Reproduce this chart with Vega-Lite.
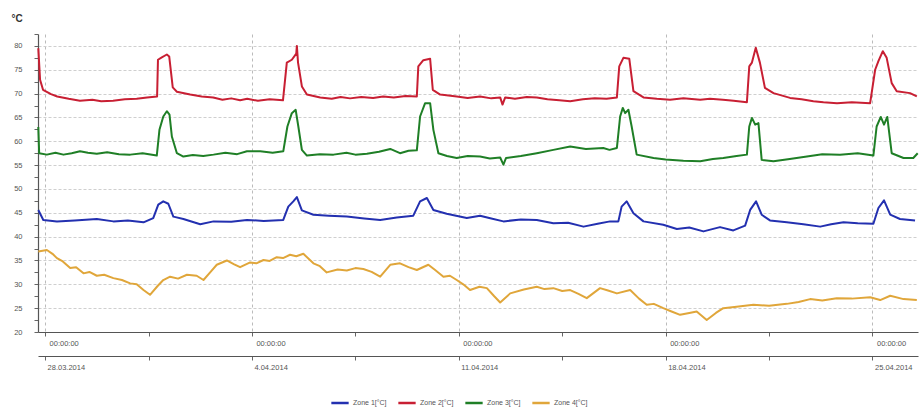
{
  "$schema": "https://vega.github.io/schema/vega-lite/v6.json",
  "width": 880,
  "height": 298,
  "autosize": "none",
  "padding": {"left": 38, "top": 34, "right": 4, "bottom": 76},
  "background": "white",
  "config": {
    "font": "Liberation Sans",
    "view": {"stroke": null},
    "axis": {"labelColor": "#555", "labelFont": "Liberation Sans", "domainColor": "#666", "tickColor": "#666"},
    "axisY": {
      "titleAngle": 0, "titleX": -27, "titleY": -16, "titleAlign": "left", "titleBaseline": "middle",
      "titleFontSize": 10, "titleFontWeight": "bold", "titleColor": "#333",
      "labelFontSize": 7.5, "labelPadding": 12, "tickSize": 4, "domainColor": "#555", "domainWidth": 1.2,
      "grid": true, "gridColor": "#cfcfcf", "gridDash": [3, 2]
    }
  },
  "data": {"values": [
    {"s":"2","d":-0.23,"v":79.5},{"s":"2","d":-0.17,"v":72.9},{"s":"2","d":-0.07,"v":70.8},{"s":"2","d":0.2,"v":69.9},{"s":"2","d":0.41,"v":69.4},{"s":"2","d":0.8,"v":68.9},{"s":"2","d":1.18,"v":68.5},{"s":"2","d":1.6,"v":68.7},{"s":"2","d":1.9,"v":68.4},{"s":"2","d":2.3,"v":68.5},{"s":"2","d":2.7,"v":68.8},{"s":"2","d":3.1,"v":68.9},{"s":"2","d":3.45,"v":69.2},{"s":"2","d":3.79,"v":69.4},{"s":"2","d":3.82,"v":77.1},{"s":"2","d":3.95,"v":77.6},{"s":"2","d":4.12,"v":78.2},{"s":"2","d":4.2,"v":77.8},{"s":"2","d":4.32,"v":71.3},{"s":"2","d":4.46,"v":70.4},{"s":"2","d":4.91,"v":69.8},{"s":"2","d":5.3,"v":69.4},{"s":"2","d":5.69,"v":69.2},{"s":"2","d":6.0,"v":68.7},{"s":"2","d":6.3,"v":69.0},{"s":"2","d":6.6,"v":68.6},{"s":"2","d":6.84,"v":68.9},{"s":"2","d":7.2,"v":68.5},{"s":"2","d":7.6,"v":68.8},{"s":"2","d":8.05,"v":68.6},{"s":"2","d":8.18,"v":76.5},{"s":"2","d":8.35,"v":77.1},{"s":"2","d":8.5,"v":78.4},{"s":"2","d":8.52,"v":80.0},{"s":"2","d":8.56,"v":76.5},{"s":"2","d":8.69,"v":71.5},{"s":"2","d":8.86,"v":69.8},{"s":"2","d":9.31,"v":69.2},{"s":"2","d":9.7,"v":68.9},{"s":"2","d":10.0,"v":69.3},{"s":"2","d":10.32,"v":69.0},{"s":"2","d":10.7,"v":69.3},{"s":"2","d":11.1,"v":69.1},{"s":"2","d":11.44,"v":69.4},{"s":"2","d":11.8,"v":69.2},{"s":"2","d":12.2,"v":69.5},{"s":"2","d":12.58,"v":69.4},{"s":"2","d":12.63,"v":75.7},{"s":"2","d":12.8,"v":77.0},{"s":"2","d":13.03,"v":77.3},{"s":"2","d":13.12,"v":70.8},{"s":"2","d":13.37,"v":69.8},{"s":"2","d":13.93,"v":69.4},{"s":"2","d":14.3,"v":69.1},{"s":"2","d":14.72,"v":69.4},{"s":"2","d":15.1,"v":69.0},{"s":"2","d":15.4,"v":69.2},{"s":"2","d":15.48,"v":67.7},{"s":"2","d":15.57,"v":69.2},{"s":"2","d":15.9,"v":68.9},{"s":"2","d":16.3,"v":69.3},{"s":"2","d":16.64,"v":69.2},{"s":"2","d":17.0,"v":68.8},{"s":"2","d":17.4,"v":68.6},{"s":"2","d":17.77,"v":68.4},{"s":"2","d":18.2,"v":68.8},{"s":"2","d":18.6,"v":69.0},{"s":"2","d":19.0,"v":68.9},{"s":"2","d":19.35,"v":69.2},{"s":"2","d":19.43,"v":75.7},{"s":"2","d":19.57,"v":77.5},{"s":"2","d":19.77,"v":77.3},{"s":"2","d":19.91,"v":70.5},{"s":"2","d":20.25,"v":69.2},{"s":"2","d":20.7,"v":68.9},{"s":"2","d":21.15,"v":68.7},{"s":"2","d":21.6,"v":69.0},{"s":"2","d":22.17,"v":68.7},{"s":"2","d":22.5,"v":68.9},{"s":"2","d":22.94,"v":68.7},{"s":"2","d":23.3,"v":68.5},{"s":"2","d":23.75,"v":68.2},{"s":"2","d":23.83,"v":75.7},{"s":"2","d":23.92,"v":76.5},{"s":"2","d":24.05,"v":79.6},{"s":"2","d":24.19,"v":76.5},{"s":"2","d":24.36,"v":71.2},{"s":"2","d":24.65,"v":70.1},{"s":"2","d":25.21,"v":69.1},{"s":"2","d":25.6,"v":68.8},{"s":"2","d":26.0,"v":68.4},{"s":"2","d":26.34,"v":68.2},{"s":"2","d":26.8,"v":68.0},{"s":"2","d":27.3,"v":68.2},{"s":"2","d":27.92,"v":68.0},{"s":"2","d":28.09,"v":75.0},{"s":"2","d":28.2,"v":76.8},{"s":"2","d":28.35,"v":78.9},{"s":"2","d":28.48,"v":77.5},{"s":"2","d":28.65,"v":72.2},{"s":"2","d":28.82,"v":70.5},{"s":"2","d":29.27,"v":70.1},{"s":"2","d":29.5,"v":69.4},
    {"s":"3","d":-0.23,"v":63.0},{"s":"3","d":-0.2,"v":57.5},{"s":"3","d":0.06,"v":57.2},{"s":"3","d":0.35,"v":57.6},{"s":"3","d":0.62,"v":57.2},{"s":"3","d":0.9,"v":57.5},{"s":"3","d":1.18,"v":57.9},{"s":"3","d":1.45,"v":57.6},{"s":"3","d":1.75,"v":57.4},{"s":"3","d":2.1,"v":57.7},{"s":"3","d":2.5,"v":57.3},{"s":"3","d":2.88,"v":57.2},{"s":"3","d":3.3,"v":57.5},{"s":"3","d":3.78,"v":57.0},{"s":"3","d":3.87,"v":62.4},{"s":"3","d":4.0,"v":65.2},{"s":"3","d":4.12,"v":66.3},{"s":"3","d":4.21,"v":65.6},{"s":"3","d":4.29,"v":61.0},{"s":"3","d":4.46,"v":57.5},{"s":"3","d":4.68,"v":56.8},{"s":"3","d":5.0,"v":57.1},{"s":"3","d":5.35,"v":56.9},{"s":"3","d":5.7,"v":57.2},{"s":"3","d":6.1,"v":57.6},{"s":"3","d":6.5,"v":57.3},{"s":"3","d":6.83,"v":57.9},{"s":"3","d":7.28,"v":57.9},{"s":"3","d":7.7,"v":57.6},{"s":"3","d":8.06,"v":57.9},{"s":"3","d":8.2,"v":63.1},{"s":"3","d":8.35,"v":65.9},{"s":"3","d":8.48,"v":66.6},{"s":"3","d":8.57,"v":63.1},{"s":"3","d":8.69,"v":58.2},{"s":"3","d":8.86,"v":57.0},{"s":"3","d":9.3,"v":57.3},{"s":"3","d":9.76,"v":57.2},{"s":"3","d":10.2,"v":57.6},{"s":"3","d":10.5,"v":57.2},{"s":"3","d":10.89,"v":57.4},{"s":"3","d":11.3,"v":57.8},{"s":"3","d":11.68,"v":58.4},{"s":"3","d":12.01,"v":57.5},{"s":"3","d":12.3,"v":58.0},{"s":"3","d":12.58,"v":58.1},{"s":"3","d":12.69,"v":65.2},{"s":"3","d":12.86,"v":68.0},{"s":"3","d":13.03,"v":68.0},{"s":"3","d":13.14,"v":62.4},{"s":"3","d":13.31,"v":57.5},{"s":"3","d":13.6,"v":56.9},{"s":"3","d":13.93,"v":56.5},{"s":"3","d":14.3,"v":56.9},{"s":"3","d":14.72,"v":56.8},{"s":"3","d":15.05,"v":56.4},{"s":"3","d":15.4,"v":56.6},{"s":"3","d":15.51,"v":55.1},{"s":"3","d":15.6,"v":56.5},{"s":"3","d":16.1,"v":56.9},{"s":"3","d":16.64,"v":57.5},{"s":"3","d":17.2,"v":58.2},{"s":"3","d":17.77,"v":58.9},{"s":"3","d":18.3,"v":58.4},{"s":"3","d":18.89,"v":58.6},{"s":"3","d":19.1,"v":58.2},{"s":"3","d":19.35,"v":58.6},{"s":"3","d":19.46,"v":65.2},{"s":"3","d":19.55,"v":67.0},{"s":"3","d":19.63,"v":65.9},{"s":"3","d":19.74,"v":66.6},{"s":"3","d":19.85,"v":63.1},{"s":"3","d":20.02,"v":57.2},{"s":"3","d":20.59,"v":56.5},{"s":"3","d":21.0,"v":56.2},{"s":"3","d":21.6,"v":55.9},{"s":"3","d":22.17,"v":55.8},{"s":"3","d":22.6,"v":56.3},{"s":"3","d":22.95,"v":56.5},{"s":"3","d":23.4,"v":56.9},{"s":"3","d":23.75,"v":57.2},{"s":"3","d":23.83,"v":63.1},{"s":"3","d":23.92,"v":64.9},{"s":"3","d":24.03,"v":63.5},{"s":"3","d":24.14,"v":63.8},{"s":"3","d":24.25,"v":56.1},{"s":"3","d":24.65,"v":55.8},{"s":"3","d":25.2,"v":56.3},{"s":"3","d":25.78,"v":56.8},{"s":"3","d":26.3,"v":57.3},{"s":"3","d":26.9,"v":57.2},{"s":"3","d":27.5,"v":57.5},{"s":"3","d":28.03,"v":57.0},{"s":"3","d":28.14,"v":63.1},{"s":"3","d":28.28,"v":65.1},{"s":"3","d":28.39,"v":63.5},{"s":"3","d":28.5,"v":65.1},{"s":"3","d":28.65,"v":57.5},{"s":"3","d":29.05,"v":56.5},{"s":"3","d":29.38,"v":56.5},{"s":"3","d":29.53,"v":57.5},
    {"s":"1","d":-0.23,"v":45.6},{"s":"1","d":-0.06,"v":43.5},{"s":"1","d":0.4,"v":43.2},{"s":"1","d":1.0,"v":43.4},{"s":"1","d":1.75,"v":43.7},{"s":"1","d":2.31,"v":43.2},{"s":"1","d":2.8,"v":43.4},{"s":"1","d":3.33,"v":43.0},{"s":"1","d":3.66,"v":43.9},{"s":"1","d":3.83,"v":46.7},{"s":"1","d":4.0,"v":47.4},{"s":"1","d":4.17,"v":46.9},{"s":"1","d":4.34,"v":44.2},{"s":"1","d":4.68,"v":43.7},{"s":"1","d":5.25,"v":42.6},{"s":"1","d":5.7,"v":43.2},{"s":"1","d":6.3,"v":43.1},{"s":"1","d":6.83,"v":43.5},{"s":"1","d":7.4,"v":43.3},{"s":"1","d":8.06,"v":43.5},{"s":"1","d":8.23,"v":46.3},{"s":"1","d":8.4,"v":47.4},{"s":"1","d":8.52,"v":48.3},{"s":"1","d":8.69,"v":45.5},{"s":"1","d":9.08,"v":44.6},{"s":"1","d":9.6,"v":44.4},{"s":"1","d":10.21,"v":44.2},{"s":"1","d":10.8,"v":43.8},{"s":"1","d":11.34,"v":43.5},{"s":"1","d":11.9,"v":44.0},{"s":"1","d":12.46,"v":44.4},{"s":"1","d":12.69,"v":47.4},{"s":"1","d":12.92,"v":48.1},{"s":"1","d":13.14,"v":45.6},{"s":"1","d":13.59,"v":44.8},{"s":"1","d":14.27,"v":43.9},{"s":"1","d":14.72,"v":44.4},{"s":"1","d":15.1,"v":43.8},{"s":"1","d":15.51,"v":43.2},{"s":"1","d":16.1,"v":43.6},{"s":"1","d":16.64,"v":43.5},{"s":"1","d":17.2,"v":42.8},{"s":"1","d":17.7,"v":42.9},{"s":"1","d":18.22,"v":42.1},{"s":"1","d":18.7,"v":42.7},{"s":"1","d":19.12,"v":43.2},{"s":"1","d":19.4,"v":43.2},{"s":"1","d":19.51,"v":46.3},{"s":"1","d":19.68,"v":47.4},{"s":"1","d":19.91,"v":44.9},{"s":"1","d":20.25,"v":43.2},{"s":"1","d":20.92,"v":42.5},{"s":"1","d":21.38,"v":41.6},{"s":"1","d":21.8,"v":41.9},{"s":"1","d":22.28,"v":41.1},{"s":"1","d":22.84,"v":42.0},{"s":"1","d":23.29,"v":41.3},{"s":"1","d":23.69,"v":42.3},{"s":"1","d":23.86,"v":45.6},{"s":"1","d":24.06,"v":47.4},{"s":"1","d":24.25,"v":44.6},{"s":"1","d":24.53,"v":43.4},{"s":"1","d":25.1,"v":43.0},{"s":"1","d":25.66,"v":42.6},{"s":"1","d":26.23,"v":42.1},{"s":"1","d":26.6,"v":42.6},{"s":"1","d":27.02,"v":43.0},{"s":"1","d":27.5,"v":42.8},{"s":"1","d":28.03,"v":42.7},{"s":"1","d":28.2,"v":46.0},{"s":"1","d":28.39,"v":47.6},{"s":"1","d":28.6,"v":44.6},{"s":"1","d":28.93,"v":43.7},{"s":"1","d":29.44,"v":43.4},
    {"s":"4","d":-0.23,"v":36.9},{"s":"4","d":0.06,"v":37.2},{"s":"4","d":0.25,"v":36.4},{"s":"4","d":0.4,"v":35.5},{"s":"4","d":0.6,"v":34.8},{"s":"4","d":0.85,"v":33.4},{"s":"4","d":1.05,"v":33.6},{"s":"4","d":1.3,"v":32.3},{"s":"4","d":1.5,"v":32.6},{"s":"4","d":1.75,"v":31.8},{"s":"4","d":2.0,"v":32.0},{"s":"4","d":2.31,"v":31.3},{"s":"4","d":2.6,"v":30.9},{"s":"4","d":2.88,"v":30.2},{"s":"4","d":3.1,"v":30.0},{"s":"4","d":3.33,"v":28.8},{"s":"4","d":3.55,"v":27.8},{"s":"4","d":3.8,"v":29.6},{"s":"4","d":4.0,"v":30.9},{"s":"4","d":4.23,"v":31.6},{"s":"4","d":4.5,"v":31.2},{"s":"4","d":4.8,"v":32.0},{"s":"4","d":5.13,"v":31.8},{"s":"4","d":5.36,"v":30.9},{"s":"4","d":5.6,"v":32.6},{"s":"4","d":5.81,"v":34.1},{"s":"4","d":6.15,"v":35.0},{"s":"4","d":6.4,"v":34.2},{"s":"4","d":6.6,"v":33.6},{"s":"4","d":6.94,"v":34.6},{"s":"4","d":7.15,"v":34.4},{"s":"4","d":7.39,"v":35.1},{"s":"4","d":7.6,"v":34.9},{"s":"4","d":7.84,"v":35.7},{"s":"4","d":8.05,"v":35.5},{"s":"4","d":8.29,"v":36.2},{"s":"4","d":8.5,"v":35.9},{"s":"4","d":8.74,"v":36.4},{"s":"4","d":9.08,"v":34.4},{"s":"4","d":9.3,"v":33.8},{"s":"4","d":9.53,"v":32.5},{"s":"4","d":9.9,"v":33.1},{"s":"4","d":10.21,"v":32.9},{"s":"4","d":10.5,"v":33.4},{"s":"4","d":10.77,"v":33.2},{"s":"4","d":11.05,"v":32.6},{"s":"4","d":11.34,"v":31.6},{"s":"4","d":11.68,"v":34.1},{"s":"4","d":12.01,"v":34.4},{"s":"4","d":12.3,"v":33.6},{"s":"4","d":12.58,"v":33.0},{"s":"4","d":12.97,"v":34.1},{"s":"4","d":13.2,"v":33.0},{"s":"4","d":13.48,"v":31.6},{"s":"4","d":13.7,"v":31.8},{"s":"4","d":13.93,"v":30.9},{"s":"4","d":14.15,"v":30.0},{"s":"4","d":14.38,"v":28.8},{"s":"4","d":14.7,"v":29.5},{"s":"4","d":14.95,"v":29.2},{"s":"4","d":15.2,"v":27.5},{"s":"4","d":15.4,"v":26.2},{"s":"4","d":15.74,"v":28.1},{"s":"4","d":16.2,"v":28.9},{"s":"4","d":16.64,"v":29.5},{"s":"4","d":16.9,"v":29.0},{"s":"4","d":17.2,"v":29.2},{"s":"4","d":17.5,"v":28.6},{"s":"4","d":17.77,"v":28.8},{"s":"4","d":18.05,"v":28.0},{"s":"4","d":18.33,"v":27.1},{"s":"4","d":18.78,"v":29.2},{"s":"4","d":19.05,"v":28.7},{"s":"4","d":19.35,"v":28.1},{"s":"4","d":19.8,"v":28.8},{"s":"4","d":20.1,"v":27.0},{"s":"4","d":20.36,"v":25.7},{"s":"4","d":20.6,"v":25.9},{"s":"4","d":20.92,"v":25.0},{"s":"4","d":21.2,"v":24.3},{"s":"4","d":21.49,"v":23.6},{"s":"4","d":21.8,"v":24.0},{"s":"4","d":22.05,"v":24.3},{"s":"4","d":22.39,"v":22.5},{"s":"4","d":22.7,"v":24.0},{"s":"4","d":22.95,"v":25.0},{"s":"4","d":23.4,"v":25.3},{"s":"4","d":23.97,"v":25.7},{"s":"4","d":24.5,"v":25.5},{"s":"4","d":25.1,"v":25.9},{"s":"4","d":25.5,"v":26.3},{"s":"4","d":25.89,"v":26.9},{"s":"4","d":26.3,"v":26.6},{"s":"4","d":26.79,"v":27.1},{"s":"4","d":27.3,"v":27.0},{"s":"4","d":27.92,"v":27.3},{"s":"4","d":28.26,"v":26.7},{"s":"4","d":28.6,"v":27.6},{"s":"4","d":29.05,"v":26.9},{"s":"4","d":29.5,"v":26.7}
  ]},
  "layer": [
    {
      "mark": {"type": "line", "strokeWidth": 2, "strokeJoin": "round"},
      "encoding": {
        "x": {
          "field": "d", "type": "quantitative",
          "scale": {"domain": [-0.24, 29.54], "nice": false, "zero": false},
          "axis": {
            "title": null,
            "values": [0, 3.5, 7, 10.5, 14, 17.5, 21, 24.5, 28],
            "labelExpr": "datum.value % 7 == 0 ? '00:00:00' : ''",
            "labelAlign": "left", "labelOffset": 4, "labelFontSize": 7.5, "labelPadding": 3,
            "tickSize": 4, "domainColor": "#555", "domainWidth": 1.2,
            "grid": true, "gridColor": "#bbb", "gridDash": [3, 3],
            "gridOpacity": {"condition": {"test": "datum.value % 7 == 0", "value": 1}, "value": 0}
          }
        },
        "y": {
          "field": "v", "type": "quantitative",
          "scale": {"domain": [20, 82.5], "nice": false, "zero": false},
          "axis": {
            "title": "°C", "labelOverlap": false,
            "values": [20, 22.5, 25, 27.5, 30, 32.5, 35, 37.5, 40, 42.5, 45, 47.5, 50, 52.5, 55, 57.5, 60, 62.5, 65, 67.5, 70, 72.5, 75, 77.5, 80, 82.5],
            "labelExpr": "datum.value % 5 == 0 ? format(datum.value, 'd') : ''",
            "gridOpacity": {"condition": {"test": "datum.value % 5 == 0 && datum.value > 20", "value": 1}, "value": 0}
          }
        },
        "color": {
          "field": "s", "type": "nominal",
          "scale": {"domain": ["1", "2", "3", "4"], "range": ["#2330b0", "#c81f33", "#1f7f26", "#e0a63a"]},
          "legend": {
            "title": null, "orient": "none", "direction": "horizontal", "legendX": 292, "legendY": 359,
            "symbolType": "stroke", "symbolStrokeWidth": 2.5, "symbolSize": 300,
            "labelExpr": "'Zone ' + datum.label + '[°C]'", "labelFontSize": 7, "labelColor": "#555",
            "columnPadding": 6, "labelOffset": 3
          }
        }
      }
    },
    {
      "mark": {"type": "point", "opacity": 0},
      "encoding": {
        "x": {
          "field": "d", "type": "quantitative",
          "axis": {
            "orient": "bottom", "offset": 24, "title": null,
            "values": [0, 3.5, 7, 10.5, 14, 17.5, 21, 24.5, 28],
            "labelExpr": "datum.value == 0 ? '28.03.2014' : datum.value == 7 ? '4.04.2014' : datum.value == 14 ? '11.04.2014' : datum.value == 21 ? '18.04.2014' : datum.value == 28 ? '25.04.2014' : ''",
            "labelAlign": "left", "labelOffset": 2, "labelFontSize": 7.5, "labelPadding": 3,
            "tickSize": 4, "domainColor": "#555", "domainWidth": 1.2, "grid": false
          }
        },
        "y": {
          "field": "v", "type": "quantitative",
          "axis": {
            "title": "°C", "labelOverlap": false,
            "values": [20, 22.5, 25, 27.5, 30, 32.5, 35, 37.5, 40, 42.5, 45, 47.5, 50, 52.5, 55, 57.5, 60, 62.5, 65, 67.5, 70, 72.5, 75, 77.5, 80, 82.5],
            "labelExpr": "datum.value % 5 == 0 ? format(datum.value, 'd') : ''",
            "gridOpacity": {"condition": {"test": "datum.value % 5 == 0 && datum.value > 20", "value": 1}, "value": 0}
          }
        }
      }
    }
  ],
  "resolve": {"axis": {"x": "independent"}}
}
